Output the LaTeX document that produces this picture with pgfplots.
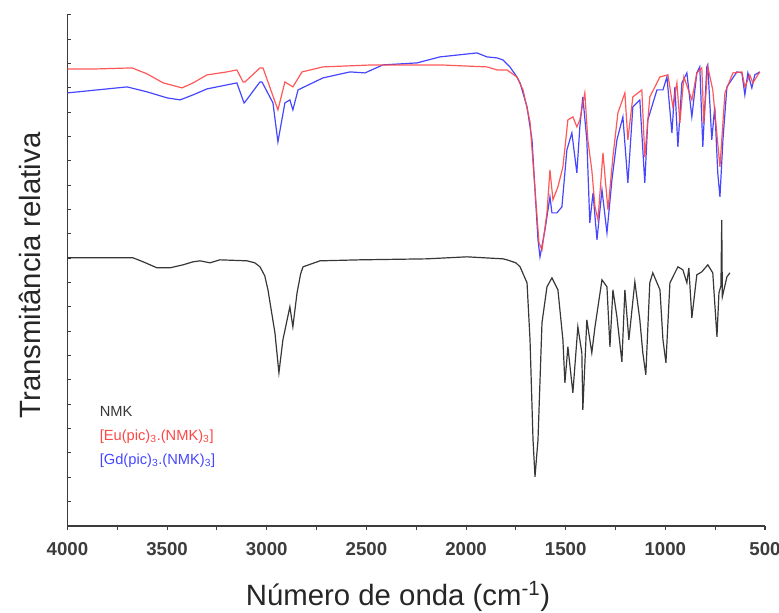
\documentclass[border=0pt]{standalone}
\usepackage{fontspec}
\setmainfont{Liberation Sans}
\usepackage{pgfplots}
\pgfplotsset{compat=1.18}
\definecolor{eucol}{RGB}{255,70,70}
\definecolor{gdcol}{RGB}{70,70,255}
\definecolor{nmkcol}{RGB}{55,55,55}
\definecolor{axcol}{RGB}{60,60,60}
\begin{document}
\begin{tikzpicture}
\begin{axis}[
  name=ax,
  scale only axis,
  width=523pt, height=383pt,
  xmin=500, xmax=4000, ymin=0, ymax=511,
  x dir=reverse,
  axis x line*=bottom, axis y line*=left,
  axis line style={-, draw=axcol, line width=1.2pt},
  xtick={500,1000,...,4000},
  minor x tick num=1,
  ytick={0,24.333,...,512},
  yticklabels={},
  xtick align=outside, ytick align=inside,
  major tick length=3pt, minor tick length=3pt,
  tick style={draw=axcol, line width=0.8pt},
  /pgf/number format/assume math mode=true,
  /pgf/number format/1000 sep={},
  xticklabel style={font=\fontsize{14}{16}\selectfont\bfseries, text=axcol, yshift=-6pt},
  xlabel={Número de onda (cm\textsuperscript{-1})},
  ylabel={Transmitância relativa},
  xlabel style={font=\fontsize{22}{26}\selectfont, text=black!85, at={(axis description cs:0.474,-0.139)}, anchor=center},
  ylabel style={font=\fontsize{22}{26}\selectfont, text=black!85, at={(axis description cs:-0.054,0.49)}, anchor=center},
  clip=false,
]
% Gd complex (blue)
\addplot[gdcol, line width=0.9pt] coordinates {
(4000,433) (3850,436) (3701,439) (3600,434) (3500,428) (3435,426) (3370,431)
(3300,437) (3200,441) (3150,443) (3114,423) (3109,424)
(3034,444) (3024,444) (2969,423) (2944,384) (2909,423) (2884,426) (2869,416)
(2843,436) (2718,448) (2582,454) (2507,453) (2417,461) (2246,463) (2131,469)
(1945,473) (1895,469) (1845,468) (1815,466) (1780,459) (1745,449) (1729,443)
(1694,419) (1669,386) (1654,336) (1639,286) (1629,269) (1604,296) (1579,329)
(1569,313) (1544,313) (1519,319) (1494,376) (1469,393) (1444,353) (1429,399)
(1414,429) (1394,386) (1379,303) (1363,333) (1343,286) (1318,336) (1293,293)
(1268,346) (1243,386) (1213,409) (1188,343) (1163,419) (1128,426) (1103,343)
(1088,406) (1042,436) (1012,436) (992,449) (967,393) (952,439) (937,379)
(917,443) (892,453) (867,409) (842,453) (827,459) (812,379) (792,459)
(787,461) (767,386) (752,419) (737,353) (726,329) (711,386) (691,439)
(641,454) (616,453) (601,431) (586,453) (566,438) (551,451) (526,454)
};
% Eu complex (red)
\addplot[eucol, line width=0.9pt, opacity=0.9] coordinates {
(4000,457) (3850,457) (3676,458) (3600,452) (3520,443) (3425,438) (3370,443)
(3300,451) (3200,454) (3150,456) (3119,444) (3109,444)
(3034,458) (3019,458) (2944,416) (2909,444) (2869,439) (2823,454) (2718,459)
(2467,461) (2131,461) (1895,459) (1845,456) (1795,456) (1745,449) (1714,436)
(1679,404) (1654,336) (1634,283) (1619,276) (1594,313) (1579,356) (1564,326)
(1539,339) (1514,359) (1489,406) (1464,409) (1444,399) (1429,406) (1404,433)
(1389,386) (1369,356) (1353,319) (1338,306) (1313,373) (1288,316) (1263,369)
(1238,413) (1203,433) (1188,386) (1163,429) (1118,436) (1103,369) (1078,429)
(1027,449) (987,451) (962,419) (942,443) (927,403) (907,449) (867,426)
(842,453) (817,458) (807,403) (787,459) (762,436) (726,359) (701,433)
(661,453) (616,454) (601,439) (576,451) (561,443) (526,454)
};
% NMK (black)
\addplot[nmkcol, line width=0.9pt] coordinates {
(4000,268) (3671,268) (3620,264) (3551,258) (3486,258) (3420,261) (3370,264)
(3335,265) (3285,263) (3235,266) (3099,265) (3060,263) (3034,259) (3010,250)
(2994,236) (2959,193) (2939,153) (2919,186)
(2884,219) (2869,199) (2848,233) (2830,252) (2818,259) (2733,265) (2532,266) (2196,267)
(1995,269) (1815,267) (1795,266) (1750,263) (1729,259) (1694,243) (1679,186) (1664,86)
(1654,49) (1639,86) (1619,203) (1594,239) (1569,248) (1539,236) (1514,186)
(1504,143) (1489,179) (1464,133) (1439,199) (1419,173) (1414,116) (1394,206)
(1369,173) (1353,199) (1318,246) (1293,239) (1278,179) (1263,236) (1243,209)
(1218,164) (1203,236) (1183,186) (1153,244) (1128,206) (1113,173) (1098,151)
(1078,243) (1063,253) (1027,236) (1012,186) (997,163) (977,243) (937,259)
(912,256) (892,243) (882,258) (867,208) (842,251) (817,254) (787,261)
(762,253) (741,189) (731,233) (721,240) (717,306) (714,229) (706,236)
(691,249) (676,253)
};
\node[anchor=west, inner sep=0pt, font=\fontsize{11}{13}\selectfont, text=nmkcol] at (axis description cs:0.046,0.223) {NMK};
\node[anchor=west, inner sep=0pt, font=\fontsize{11}{13}\selectfont, text=eucol] at (axis description cs:0.046,0.174) {[Eu(pic)\textsubscript{3}.(NMK)\textsubscript{3}]};
\node[anchor=west, inner sep=0pt, font=\fontsize{11}{13}\selectfont, text=gdcol] at (axis description cs:0.046,0.127) {[Gd(pic)\textsubscript{3}.(NMK)\textsubscript{3}]};
\end{axis}
\pgfresetboundingbox
\path ([shift={(-50.6pt,-65.2pt)}]ax.south west) rectangle ([shift={(10.5pt,11.2pt)}]ax.north east);
\end{tikzpicture}
\end{document}
